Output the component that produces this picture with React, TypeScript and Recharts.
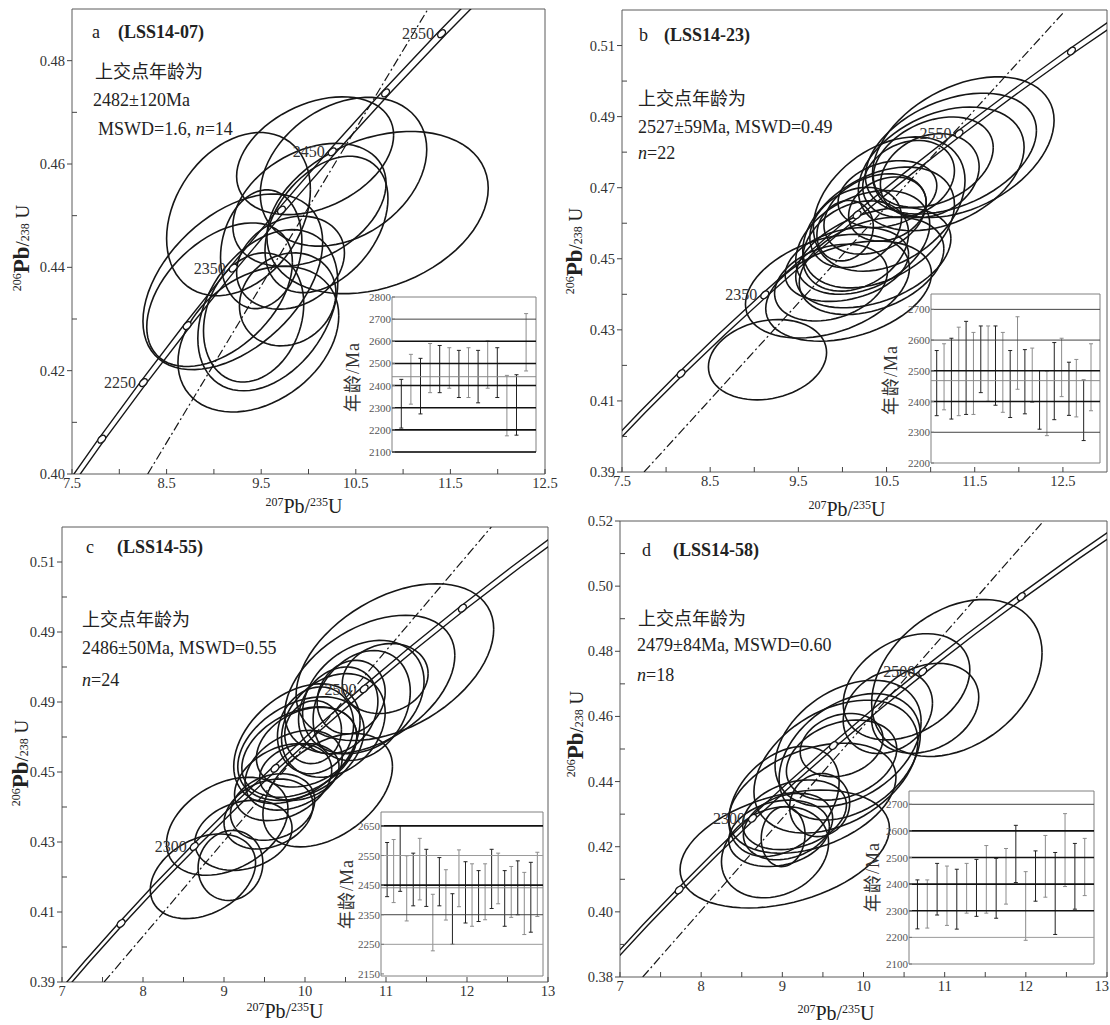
import React from 'react';
import {
  ComposedChart, Line, Scatter, Bar, XAxis, YAxis,
  ReferenceArea, ReferenceLine, LabelList,
} from 'recharts';

const SERIF = '"Liberation Serif", "Times New Roman", serif';
const CJK = '"Noto Sans CJK SC", "Noto Sans CJK JP", sans-serif';
const INK = '#161616';

// U-Pb decay constants (per Ma)
const LAMBDA_238 = 1.55125e-4;
const LAMBDA_235 = 9.8485e-4;

// vertices of the concordia curve, Ma
const concordiaAges = [
  1900, 1950, 2000, 2050, 2100, 2150, 2200, 2250, 2300, 2350, 2400,
  2450, 2500, 2550, 2600, 2650, 2700, 2750, 2800, 2850, 2900,
];

// ---------- panel a (LSS14-07) ----------
const xTicksA = [7.5, 8, 8.5, 9, 9.5, 10, 10.5, 11, 11.5, 12, 12.5];
const xLabelsA = [7.5, 8.5, 9.5, 10.5, 11.5, 12.5];
const yTicksA = [0.40, 0.41, 0.42, 0.43, 0.44, 0.45, 0.46, 0.47, 0.48];
const yLabelValsA = [0.40, 0.42, 0.44, 0.46, 0.48];
const yLabelTextA = ['0.40', '0.42', '0.44', '0.46', '0.48'];
const markerAgesA = [2200, 2250, 2300, 2350, 2400, 2450, 2500, 2550];
const labelAgesA = [2250, 2350, 2450, 2550];
const concordiaShiftA = 0.085;
const discordiaA = [{ x: 8.30, y: 0.40 }, { x: 11.27, y: 0.4902 }];
const ellipsesA = [
  { x: 10.73, sx: 1.17, y: 0.4506, sy: 0.0157, rho: 0.30 },
  { x: 10.07, sx: 0.83, y: 0.4616, sy: 0.0114, rho: 0.35 },
  { x: 10.37, sx: 0.88, y: 0.4585, sy: 0.0144, rho: 0.30 },
  { x: 9.26, sx: 0.76, y: 0.4503, sy: 0.0158, rho: 0.30 },
  { x: 9.20, sx: 0.95, y: 0.4372, sy: 0.0170, rho: 0.45 },
  { x: 9.47, sx: 0.85, y: 0.4261, sy: 0.0141, rho: 0.32 },
  { x: 9.57, sx: 0.74, y: 0.4317, sy: 0.0156, rho: 0.35 },
  { x: 9.50, sx: 0.43, y: 0.4435, sy: 0.0115, rho: 0.14 },
  { x: 9.81, sx: 0.57, y: 0.4409, sy: 0.0090, rho: 0.21 },
  { x: 10.19, sx: 0.65, y: 0.4483, sy: 0.0132, rho: 0.38 },
  { x: 9.06, sx: 0.77, y: 0.4347, sy: 0.0139, rho: 0.45 },
  { x: 9.42, sx: 0.53, y: 0.4303, sy: 0.0125, rho: 0.21 },
  { x: 10.01, sx: 0.81, y: 0.4521, sy: 0.0119, rho: 0.35 },
  { x: 9.78, sx: 0.51, y: 0.4338, sy: 0.0090, rho: 0.14 },
];
const insetHiA = [2428, 2541, 2523, 2590, 2581, 2571, 2559, 2571, 2559, 2602, 2571, 2446, 2449, 2725];
const insetLoA = [2208, 2316, 2272, 2368, 2368, 2388, 2346, 2346, 2322, 2388, 2346, 2173, 2176, 2466];
const insetTicksA = [2100, 2200, 2300, 2400, 2500, 2600, 2700, 2800];
const insetMajorA = [2100, 2200, 2300, 2400, 2500, 2600];
const insetMinorA = [2700];
const insetFaintA: number[] = [];
const insetMeanA = 2440;

// ---------- panel b (LSS14-23) ----------
const xTicksB = [7.5, 8, 8.5, 9, 9.5, 10, 10.5, 11, 11.5, 12, 12.5];
const xLabelsB = [7.5, 8.5, 9.5, 10.5, 11.5, 12.5];
const yTicksB = [0.39, 0.40, 0.41, 0.42, 0.43, 0.44, 0.45, 0.46, 0.47, 0.48, 0.49, 0.50, 0.51];
const yLabelValsB = [0.39, 0.41, 0.43, 0.45, 0.47, 0.49, 0.51];
const yLabelTextB = ['0.39', '0.41', '0.43', '0.45', '0.47', '0.49', '0.51'];
const markerAgesB = [2250, 2350, 2450, 2550, 2650];
const labelAgesB = [2350, 2550];
const concordiaShiftB = 0;
const discordiaB = [{ x: 7.75, y: 0.39 }, { x: 12.5, y: 0.5191 }];
const ellipsesB = [
  { x: 9.15, sx: 0.67, y: 0.4216, sy: 0.0113, rho: 0.18 },
  { x: 9.83, sx: 0.93, y: 0.4423, sy: 0.0146, rho: 0.35 },
  { x: 10.07, sx: 0.94, y: 0.4409, sy: 0.0141, rho: 0.35 },
  { x: 11.37, sx: 1.03, y: 0.4814, sy: 0.0198, rho: 0.38 },
  { x: 11.23, sx: 0.97, y: 0.4796, sy: 0.0170, rho: 0.38 },
  { x: 11.12, sx: 0.94, y: 0.4753, sy: 0.0174, rho: 0.35 },
  { x: 10.99, sx: 0.56, y: 0.4734, sy: 0.0118, rho: 0.21 },
  { x: 10.53, sx: 0.86, y: 0.4654, sy: 0.0189, rho: 0.35 },
  { x: 10.41, sx: 0.86, y: 0.4588, sy: 0.0170, rho: 0.38 },
  { x: 10.23, sx: 0.76, y: 0.4546, sy: 0.0146, rho: 0.35 },
  { x: 10.15, sx: 0.60, y: 0.4536, sy: 0.0127, rho: 0.28 },
  { x: 10.03, sx: 0.32, y: 0.4579, sy: 0.0085, rho: 0.14 },
  { x: 10.51, sx: 0.56, y: 0.4682, sy: 0.0094, rho: 0.25 },
  { x: 10.51, sx: 0.44, y: 0.4640, sy: 0.0090, rho: 0.21 },
  { x: 10.35, sx: 0.88, y: 0.4503, sy: 0.0141, rho: 0.38 },
  { x: 10.33, sx: 0.82, y: 0.4480, sy: 0.0137, rho: 0.35 },
  { x: 9.87, sx: 0.64, y: 0.4433, sy: 0.0108, rho: 0.28 },
  { x: 10.75, sx: 0.52, y: 0.4725, sy: 0.0108, rho: 0.21 },
  { x: 10.37, sx: 0.58, y: 0.4626, sy: 0.0113, rho: 0.28 },
  { x: 10.15, sx: 0.52, y: 0.4588, sy: 0.0113, rho: 0.25 },
  { x: 10.05, sx: 0.70, y: 0.4484, sy: 0.0104, rho: 0.28 },
  { x: 11.03, sx: 0.68, y: 0.4772, sy: 0.0127, rho: 0.32 },
];
const insetHiB = [2566, 2588, 2606, 2642, 2661, 2625, 2646, 2646, 2646, 2625, 2566, 2676, 2569, 2574, 2501, 2499, 2592, 2606, 2528, 2537, 2470, 2588];
const insetLoB = [2354, 2373, 2343, 2354, 2358, 2358, 2429, 2401, 2388, 2365, 2348, 2440, 2360, 2397, 2310, 2289, 2341, 2416, 2355, 2350, 2273, 2370];
const insetTicksB = [2200, 2300, 2400, 2500, 2600, 2700];
const insetMajorB = [2400, 2500];
const insetMinorB = [2300, 2600, 2700];
const insetFaintB: number[] = [];
const insetMeanB = 2468;

// ---------- panel c (LSS14-55) ----------
const xTicksC = [7, 7.5, 8, 8.5, 9, 9.5, 10, 10.5, 11, 11.5, 12, 12.5, 13];
const xLabelsC = [7, 8, 9, 10, 11, 12, 13];
const yTicksC = [0.39, 0.40, 0.41, 0.42, 0.43, 0.44, 0.45, 0.46, 0.47, 0.48, 0.49, 0.50, 0.51];
const yLabelValsC = [0.39, 0.41, 0.43, 0.45, 0.47, 0.49, 0.51];
const yLabelTextC = ['0.39', '0.41', '0.43', '0.45', '0.49', '0.49', '0.51'];
const markerAgesC = [2200, 2300, 2400, 2500, 2600];
const labelAgesC = [2300, 2500];
const concordiaShiftC = 0;
const discordiaC = [{ x: 7.52, y: 0.39 }, { x: 12.30, y: 0.52 }];
const ellipsesC = [
  { x: 11.11, sx: 1.22, y: 0.4814, sy: 0.0224, rho: 0.42 },
  { x: 10.80, sx: 1.05, y: 0.4750, sy: 0.0198, rho: 0.42 },
  { x: 10.99, sx: 0.53, y: 0.4767, sy: 0.0100, rho: 0.14 },
  { x: 10.72, sx: 0.75, y: 0.4714, sy: 0.0162, rho: 0.28 },
  { x: 10.70, sx: 0.60, y: 0.4690, sy: 0.0157, rho: 0.25 },
  { x: 10.35, sx: 0.64, y: 0.4633, sy: 0.0148, rho: 0.25 },
  { x: 10.13, sx: 0.47, y: 0.4619, sy: 0.0124, rho: 0.14 },
  { x: 10.10, sx: 0.35, y: 0.4614, sy: 0.0090, rho: 0.07 },
  { x: 9.90, sx: 0.78, y: 0.4581, sy: 0.0171, rho: 0.38 },
  { x: 9.95, sx: 0.78, y: 0.4567, sy: 0.0148, rho: 0.35 },
  { x: 9.93, sx: 0.71, y: 0.4557, sy: 0.0129, rho: 0.35 },
  { x: 10.02, sx: 0.62, y: 0.4571, sy: 0.0114, rho: 0.28 },
  { x: 10.28, sx: 0.80, y: 0.4448, sy: 0.0162, rho: 0.42 },
  { x: 9.60, sx: 0.52, y: 0.4400, sy: 0.0095, rho: 0.21 },
  { x: 9.24, sx: 0.60, y: 0.4319, sy: 0.0100, rho: 0.21 },
  { x: 9.08, sx: 0.40, y: 0.4233, sy: 0.0100, rho: 0.07 },
  { x: 9.04, sx: 0.75, y: 0.4345, sy: 0.0140, rho: 0.35 },
  { x: 8.74, sx: 0.65, y: 0.4202, sy: 0.0121, rho: 0.32 },
  { x: 9.86, sx: 0.60, y: 0.4505, sy: 0.0114, rho: 0.32 },
  { x: 9.73, sx: 0.60, y: 0.4471, sy: 0.0110, rho: 0.32 },
  { x: 9.93, sx: 0.49, y: 0.4500, sy: 0.0081, rho: 0.21 },
  { x: 10.41, sx: 0.49, y: 0.4676, sy: 0.0124, rho: 0.21 },
  { x: 10.57, sx: 0.42, y: 0.4714, sy: 0.0105, rho: 0.14 },
  { x: 9.55, sx: 0.55, y: 0.4380, sy: 0.0100, rho: 0.25 },
];
const insetHiC = [2594, 2604, 2651, 2549, 2558, 2608, 2571, 2419, 2543, 2502, 2421, 2569, 2529, 2522, 2499, 2522, 2571, 2558, 2499, 2513, 2532, 2493, 2527, 2561];
const insetLoC = [2411, 2391, 2429, 2329, 2380, 2400, 2378, 2228, 2380, 2332, 2250, 2377, 2322, 2311, 2327, 2333, 2371, 2387, 2311, 2341, 2350, 2283, 2291, 2344];
const insetTicksC = [2150, 2250, 2350, 2450, 2550, 2650];
const insetMajorC = [2450, 2650];
const insetMinorC = [2350];
const insetFaintC = [2250, 2550];
const insetMeanC = 2441;

// ---------- panel d (LSS14-58) ----------
const xTicksD = [7, 7.5, 8, 8.5, 9, 9.5, 10, 10.5, 11, 11.5, 12, 12.5, 13];
const xLabelsD = [7, 8, 9, 10, 11, 12, 13];
const yTicksD = [0.38, 0.39, 0.40, 0.41, 0.42, 0.43, 0.44, 0.45, 0.46, 0.47, 0.48, 0.49, 0.50, 0.51, 0.52];
const yLabelValsD = [0.38, 0.40, 0.42, 0.44, 0.46, 0.48, 0.50, 0.52];
const yLabelTextD = ['0.38', '0.40', '0.42', '0.44', '0.46', '0.48', '0.50', '0.52'];
const markerAgesD = [2200, 2300, 2400, 2500, 2600];
const labelAgesD = [2300, 2500];
const concordiaShiftD = 0;
const discordiaD = [{ x: 7.28, y: 0.38 }, { x: 12.22, y: 0.52 }];
const ellipsesD = [
  { x: 11.15, sx: 1.05, y: 0.4718, sy: 0.0241, rho: 0.32 },
  { x: 10.76, sx: 0.66, y: 0.4625, sy: 0.0138, rho: 0.25 },
  { x: 10.53, sx: 0.78, y: 0.4691, sy: 0.0163, rho: 0.32 },
  { x: 10.30, sx: 0.55, y: 0.4614, sy: 0.0128, rho: 0.21 },
  { x: 9.81, sx: 0.90, y: 0.4517, sy: 0.0194, rho: 0.35 },
  { x: 9.83, sx: 0.87, y: 0.4476, sy: 0.0194, rho: 0.35 },
  { x: 9.73, sx: 0.68, y: 0.4466, sy: 0.0123, rho: 0.28 },
  { x: 9.73, sx: 0.51, y: 0.4512, sy: 0.0097, rho: 0.21 },
  { x: 9.37, sx: 1.03, y: 0.4349, sy: 0.0169, rho: 0.38 },
  { x: 9.02, sx: 0.68, y: 0.4339, sy: 0.0169, rho: 0.35 },
  { x: 9.66, sx: 1.01, y: 0.4446, sy: 0.0204, rho: 0.38 },
  { x: 9.46, sx: 0.37, y: 0.4328, sy: 0.0097, rho: 0.07 },
  { x: 8.96, sx: 0.62, y: 0.4241, sy: 0.0102, rho: 0.21 },
  { x: 9.01, sx: 0.27, y: 0.4231, sy: 0.0092, rho: 0.07 },
  { x: 9.03, sx: 1.29, y: 0.4193, sy: 0.0181, rho: 0.35 },
  { x: 8.91, sx: 0.66, y: 0.4183, sy: 0.0140, rho: 0.21 },
  { x: 9.15, sx: 0.64, y: 0.4298, sy: 0.0107, rho: 0.28 },
  { x: 9.07, sx: 0.55, y: 0.4262, sy: 0.0102, rho: 0.25 },
];
const insetHiD = [2416, 2416, 2478, 2468, 2456, 2478, 2493, 2545, 2497, 2534, 2621, 2447, 2525, 2583, 2519, 2665, 2553, 2572];
const insetLoD = [2232, 2235, 2284, 2245, 2231, 2291, 2279, 2291, 2272, 2325, 2406, 2189, 2336, 2351, 2211, 2391, 2306, 2357];
const insetTicksD = [2100, 2200, 2300, 2400, 2500, 2600, 2700];
const insetMajorD = [2300, 2400, 2500, 2600];
const insetMinorD = [2700];
const insetFaintD = [2200];
const insetMeanD: number | null = null;

// ---------- helpers ----------
const concordiaPoint = (t: number, shift: number, k = 1) => ({
  x: (Math.exp(LAMBDA_235 * t) - 1) * k + shift,
  y: Math.exp(LAMBDA_238 * t) - 1,
});

// error ellipse from x±sx, y±sy and correlation rho
const ELLIPSE_STEPS = 72;
function ellipseOutline(e: { x: number; sx: number; y: number; sy: number; rho: number }) {
  const k = Math.sqrt(1 - e.rho * e.rho);
  const pts = [];
  for (let i = 0; i <= ELLIPSE_STEPS; i++) {
    const a = (2 * Math.PI * i) / ELLIPSE_STEPS;
    pts.push({ x: e.x + e.sx * Math.cos(a), y: e.y + e.sy * (e.rho * Math.cos(a) + k * Math.sin(a)) });
  }
  return pts;
}

const near = (a: number, b: number) => Math.abs(a - b) < 1e-6;

// tick labels under the x axis; the last one hugs the frame when the panel is at the page edge
const makeXTick = (labels: number[], maxX: number) => (p: any) => {
  const v = p.payload.value;
  const show = labels.some((l) => near(l, v));
  const atEdge = p.x + 8 > maxX;
  return (
    <g>
      <line x1={p.x} x2={p.x} y1={p.y} y2={p.y - 5} stroke="#444" strokeWidth={1} />
      {show && (
        <text x={atEdge ? p.x + 2 : p.x} y={p.y + 14} textAnchor={atEdge ? 'end' : 'middle'}
          fontSize={14.5} fontFamily={SERIF} fill="#333">
          {String(v)}
        </text>
      )}
    </g>
  );
};

const makeYTick = (vals: number[], texts: string[]) => (p: any) => {
  const v = p.payload.value;
  const i = vals.findIndex((l) => near(l, v));
  return (
    <g>
      <line x1={p.x} x2={i >= 0 ? p.x - 5 : p.x + 5} y1={p.y} y2={p.y} stroke="#444" strokeWidth={1} />
      {i >= 0 && (
        <text x={p.x - 7} y={p.y + 5} textAnchor="end" fontSize={14.5} fontFamily={SERIF} fill="#333">
          {texts[i]}
        </text>
      )}
    </g>
  );
};

const insetTick = (p: any) => (
  <g>
    <line x1={p.x} x2={p.x + 3} y1={p.y} y2={p.y} stroke="#777" strokeWidth={1} />
    <text x={p.x - 1} y={p.y + 4} textAnchor="end" fontSize={11} fontFamily={SERIF} fill="#555">
      {p.payload.value}
    </text>
  </g>
);

const MarkerShape = (p: any) => (
  <ellipse
    cx={p.cx} cy={p.cy} rx={4.6} ry={3}
    transform={`rotate(-45 ${p.cx} ${p.cy})`}
    fill="#fff" stroke={INK} strokeWidth={1.4}
  />
);

const ErrShape = (p: any) => {
  const cx = p.x + p.width / 2;
  const col = p.payload.i % 2 === 1 ? '#222' : '#8c8c8c';
  const y2 = p.y + p.height;
  return (
    <g stroke={col} strokeWidth={1}>
      <line x1={cx} x2={cx} y1={p.y} y2={y2} />
      <line x1={cx - 2} x2={cx + 2} y1={p.y} y2={p.y} />
      <line x1={cx - 2} x2={cx + 2} y1={y2} y2={y2} />
    </g>
  );
};

// ---------- configs ----------
const panels = [
  {
    id: 'a', left: 0, top: 0, width: 560, height: 500,
    margin: { top: 9, right: 15, bottom: 25, left: 71 },
    xDomain: [7.5, 12.5], yDomain: [0.40, 0.49],
    xTicks: xTicksA, xLabels: xLabelsA, yTicks: yTicksA, yLabelVals: yLabelValsA, yLabelText: yLabelTextA,
    ellipses: ellipsesA, discordia: discordiaA, markerAges: markerAgesA, labelAges: labelAgesA, shift: concordiaShiftA,
  },
  {
    id: 'b', left: 555, top: 0, width: 555, height: 500,
    margin: { top: 10, right: 3, bottom: 27, left: 66 },
    xDomain: [7.5, 13], yDomain: [0.39, 0.52],
    xTicks: xTicksB, xLabels: xLabelsB, yTicks: yTicksB, yLabelVals: yLabelValsB, yLabelText: yLabelTextB,
    ellipses: ellipsesB, discordia: discordiaB, markerAges: markerAgesB, labelAges: labelAgesB, shift: concordiaShiftB,
  },
  {
    id: 'c', left: 0, top: 500, width: 560, height: 525,
    margin: { top: 27, right: 12, bottom: 42, left: 61 },
    xDomain: [7, 13], yDomain: [0.39, 0.52],
    xTicks: xTicksC, xLabels: xLabelsC, yTicks: yTicksC, yLabelVals: yLabelValsC, yLabelText: yLabelTextC,
    ellipses: ellipsesC, discordia: discordiaC, markerAges: markerAgesC, labelAges: labelAgesC, shift: concordiaShiftC,
  },
  {
    id: 'd', left: 555, top: 500, width: 555, height: 525,
    margin: { top: 21, right: 3, bottom: 47, left: 64 },
    xDomain: [7, 13], yDomain: [0.38, 0.52],
    xTicks: xTicksD, xLabels: xLabelsD, yTicks: yTicksD, yLabelVals: yLabelValsD, yLabelText: yLabelTextD,
    ellipses: ellipsesD, discordia: discordiaD, markerAges: markerAgesD, labelAges: labelAgesD, shift: concordiaShiftD,
  },
];

const insets = [
  {
    id: 'a', left: 340, top: 285, width: 200, height: 175,
    margin: { top: 12, right: 4, bottom: 8, left: 51 },
    xDomain: [0, 15], yDomain: [2100, 2800],
    hi: insetHiA, lo: insetLoA, ticks: insetTicksA,
    major: insetMajorA, minor: insetMinorA, faint: insetFaintA, mean: insetMeanA,
    label: { x: 352, y: 377 },
  },
  {
    id: 'b', left: 880, top: 285, width: 225, height: 185,
    margin: { top: 9, right: 5, bottom: 7, left: 50 },
    xDomain: [0.2, 23.2], yDomain: [2200, 2750],
    hi: insetHiB, lo: insetLoB, ticks: insetTicksB,
    major: insetMajorB, minor: insetMinorB, faint: insetFaintB, mean: insetMeanB,
    label: { x: 890, y: 380 },
  },
  {
    id: 'c', left: 325, top: 805, width: 225, height: 180,
    margin: { top: 7, right: 7, bottom: 9, left: 55 },
    xDomain: [0.1, 24.9], yDomain: [2143, 2697],
    hi: insetHiC, lo: insetLoC, ticks: insetTicksC,
    major: insetMajorC, minor: insetMinorC, faint: insetFaintC, mean: insetMeanC,
    label: { x: 346, y: 894 },
  },
  {
    id: 'd', left: 855, top: 785, width: 245, height: 185,
    margin: { top: 6, right: 6, bottom: 6, left: 53 },
    xDomain: [0.1, 18.9], yDomain: [2100, 2750],
    hi: insetHiD, lo: insetLoD, ticks: insetTicksD,
    major: insetMajorD, minor: insetMinorD, faint: insetFaintD, mean: insetMeanD,
    label: { x: 872, y: 877 },
  },
];

// ---------- components ----------
function Panel({ cfg }: { cfg: any }) {
  const [x0, x1] = cfg.xDomain;
  const [y0, y1] = cfg.yDomain;
  const concLeft = concordiaAges.map((t) => concordiaPoint(t, cfg.shift, 0.9955));
  const concRight = concordiaAges.map((t) => concordiaPoint(t, cfg.shift, 1.0045));
  const markers = cfg.markerAges.map((t: number) => ({
    ...concordiaPoint(t, cfg.shift),
    label: cfg.labelAges.includes(t) ? String(t) : '',
  }));
  const maxX = cfg.left + cfg.width >= 1105 ? cfg.width - 2 : 10000;
  return (
    <div style={{ position: 'absolute', left: cfg.left, top: cfg.top }}>
      <ComposedChart width={cfg.width} height={cfg.height} margin={cfg.margin}>
        <XAxis
          dataKey="x" type="number" domain={cfg.xDomain} ticks={cfg.xTicks} interval={0}
          allowDataOverflow height={1} tickSize={0} tickMargin={0} axisLine={false} tickLine={false}
          tick={makeXTick(cfg.xLabels, maxX)}
        />
        <YAxis
          dataKey="y" type="number" domain={cfg.yDomain} ticks={cfg.yTicks} interval={0}
          allowDataOverflow width={1} tickSize={0} tickMargin={0} axisLine={false} tickLine={false}
          tick={makeYTick(cfg.yLabelVals, cfg.yLabelText)}
        />
        <ReferenceArea x1={x0} x2={x1} y1={y0} y2={y1} fill="none" stroke="#5a5a5a" strokeWidth={1} />
        <Line data={concLeft} dataKey="y" type="linear" dot={false} activeDot={false}
          stroke={INK} strokeWidth={1.4} isAnimationActive={false} />
        <Line data={concRight} dataKey="y" type="linear" dot={false} activeDot={false}
          stroke={INK} strokeWidth={1.4} isAnimationActive={false} />
        <Line data={cfg.discordia} dataKey="y" type="linear" dot={false} activeDot={false}
          stroke={INK} strokeWidth={1.2} strokeDasharray="9 3 2 3" isAnimationActive={false} />
        {cfg.ellipses.map((e: any, i: number) => (
          <Line key={i} data={ellipseOutline(e)} dataKey="y" type="linear" dot={false} activeDot={false}
            stroke={INK} strokeWidth={1.6} isAnimationActive={false} />
        ))}
        <Scatter data={markers} dataKey="y" shape={MarkerShape} isAnimationActive={false}>
          <LabelList dataKey="label" position="left" offset={3}
            style={{ fontSize: 16, fontFamily: SERIF, fill: '#333' }} />
        </Scatter>
      </ComposedChart>
    </div>
  );
}

function Inset({ cfg }: { cfg: any }) {
  const data = cfg.lo.map((lo: number, i: number) => ({ i: i + 1, range: [lo, cfg.hi[i]] }));
  const [x0, x1] = cfg.xDomain;
  const [y0, y1] = cfg.yDomain;
  const m = cfg.margin;
  return (
    <>
      <div style={{
        position: 'absolute', left: cfg.left + m.left + 1, top: cfg.top + m.top,
        width: cfg.width - m.left - m.right - 1, height: cfg.height - m.top - m.bottom, background: '#fff',
      }} />
      <div style={{ position: 'absolute', left: cfg.left, top: cfg.top }}>
        <ComposedChart width={cfg.width} height={cfg.height} margin={m} data={data}>
          <XAxis dataKey="i" type="number" domain={cfg.xDomain} hide allowDataOverflow />
          <YAxis type="number" domain={cfg.yDomain} ticks={cfg.ticks} interval={0} allowDataOverflow
            width={1} tickSize={0} tickMargin={0} axisLine={false} tickLine={false} tick={insetTick} />
          {cfg.faint.map((v: number) => (
            <ReferenceLine key={`f${v}`} y={v} stroke="#9a9a9a" strokeWidth={1} />
          ))}
          {cfg.minor.map((v: number) => (
            <ReferenceLine key={`n${v}`} y={v} stroke="#444" strokeWidth={1} />
          ))}
          {cfg.major.map((v: number) => (
            <ReferenceLine key={`m${v}`} y={v} stroke="#111" strokeWidth={1.6} />
          ))}
          {cfg.mean != null && <ReferenceLine y={cfg.mean} stroke="#8a8a8a" strokeWidth={1} />}
          <ReferenceArea x1={x0} x2={x1} y1={y0} y2={y1} fill="none" stroke="#808080" strokeWidth={1} />
          <Bar dataKey="range" barSize={5} shape={ErrShape} isAnimationActive={false} />
        </ComposedChart>
      </div>
      <div style={{
        position: 'absolute', left: cfg.label.x, top: cfg.label.y,
        transform: 'translate(-50%, -50%) rotate(-90deg)', whiteSpace: 'nowrap',
        fontSize: 18, lineHeight: 1, color: '#333', letterSpacing: 1,
      }}>
        <span style={{ fontFamily: CJK }}>年龄</span>
        <span style={{ fontFamily: SERIF }}>/Ma</span>
      </div>
    </>
  );
}

const Txt = ({ x, y, children, size = 18, font = SERIF, bold = false }: any) => (
  <div style={{
    position: 'absolute', left: x, top: y, transform: 'translateY(-50%)',
    fontSize: size, fontFamily: font, color: '#222', whiteSpace: 'nowrap',
    lineHeight: 1, fontWeight: bold ? 700 : 400,
  }}>
    {children}
  </div>
);

const sup = { fontSize: 12, verticalAlign: 'super' as const };

const XTitle = ({ x, y }: any) => (
  <div style={{
    position: 'absolute', left: x, top: y, transform: 'translate(-50%, -50%)',
    fontFamily: SERIF, fontSize: 20, color: '#222', whiteSpace: 'nowrap', lineHeight: 1,
  }}>
    <span style={sup}>207</span>Pb/<span style={sup}>235</span>U
  </div>
);

const YTitle = ({ x, y }: any) => (
  <div style={{
    position: 'absolute', left: x, top: y, transform: 'translate(-50%, -50%) rotate(-90deg)',
    fontFamily: SERIF, fontSize: 19, color: '#222', whiteSpace: 'nowrap', lineHeight: 1,
  }}>
    <span style={sup}>206</span><b style={{ fontSize: 23 }}>Pb</b>/<span style={{ fontSize: 12 }}>238</span> U
  </div>
);

export default function App() {
  return (
    <div style={{
      position: 'absolute', left: 0, top: 0, width: 1110, height: 1025,
      background: '#fff', overflow: 'hidden',
    }}>
      {panels.map((p) => <Panel key={p.id} cfg={p} />)}
      {insets.map((p) => <Inset key={p.id} cfg={p} />)}

      <XTitle x={304} y={506} />
      <XTitle x={847} y={509} />
      <XTitle x={285} y={1011} />
      <XTitle x={836} y={1013} />
      <YTitle x={21} y={248} />
      <YTitle x={574} y={251} />
      <YTitle x={20} y={763} />
      <YTitle x={575} y={734} />

      {/* panel a */}
      <Txt x={92} y={32}>a</Txt>
      <Txt x={118} y={32} bold>(LSS14-07)</Txt>
      <Txt x={95} y={70} font={CJK}>上交点年龄为</Txt>
      <Txt x={93} y={100}>2482±120Ma</Txt>
      <Txt x={98} y={129}>MSWD=1.6, <i>n</i>=14</Txt>

      {/* panel b */}
      <Txt x={639} y={35}>b</Txt>
      <Txt x={664} y={35} bold>(LSS14-23)</Txt>
      <Txt x={638} y={97} font={CJK}>上交点年龄为</Txt>
      <Txt x={638} y={127}>2527±59Ma, MSWD=0.49</Txt>
      <Txt x={638} y={153}><i>n</i>=22</Txt>

      {/* panel c */}
      <Txt x={86} y={547}>c</Txt>
      <Txt x={117} y={547} bold>(LSS14-55)</Txt>
      <Txt x={82} y={618} font={CJK}>上交点年龄为</Txt>
      <Txt x={82} y={648}>2486±50Ma, MSWD=0.55</Txt>
      <Txt x={82} y={680}><i>n</i>=24</Txt>

      {/* panel d */}
      <Txt x={642} y={550}>d</Txt>
      <Txt x={673} y={550} bold>(LSS14-58)</Txt>
      <Txt x={638} y={617} font={CJK}>上交点年龄为</Txt>
      <Txt x={637} y={645}>2479±84Ma, MSWD=0.60</Txt>
      <Txt x={637} y={675}><i>n</i>=18</Txt>
    </div>
  );
}
